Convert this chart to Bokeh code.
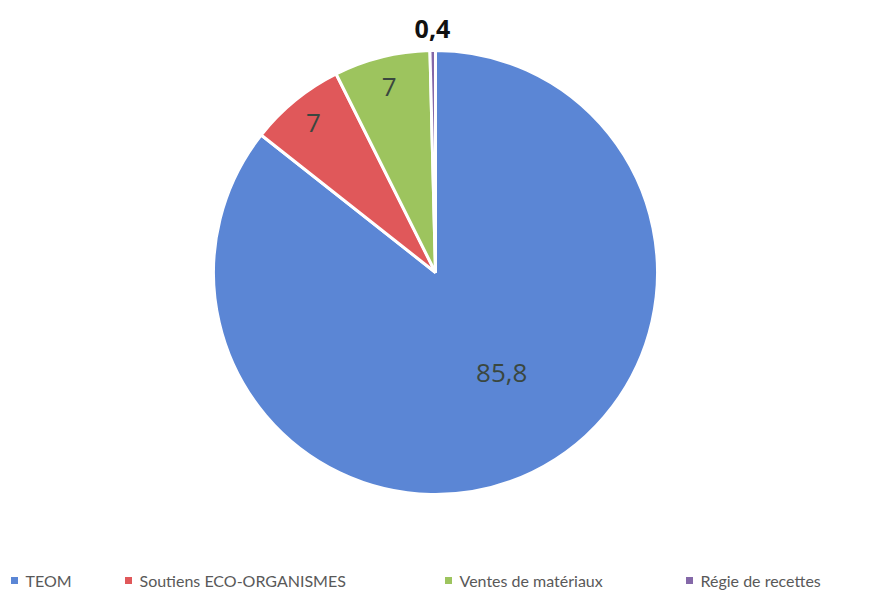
import math
from bokeh.plotting import figure
from bokeh.models import Range1d, ColumnDataSource
from bokeh.core.properties import value
from bokeh.embed import file_html
from bokeh.resources import INLINE

categories = ["TEOM", "Soutiens ECO-ORGANISMES", "Ventes de matériaux", "Régie de recettes"]
values = [85.8, 7, 7, 0.4]
labels = ["85,8", "7", "7", "0,4"]
colors = ["#5B86D5", "#E0585A", "#9DC45E", "#8468A8"]

W, H = 875, 591
p = figure(width=W, height=H, output_backend="svg", toolbar_location=None,
           x_range=Range1d(0, W), y_range=Range1d(0, H))
p.axis.visible = False
p.grid.visible = False
p.outline_line_color = None
p.background_fill_color = "white"
p.border_fill_color = "white"
p.min_border = 0

cx, cy, r = 435, 319, 222
total = sum(values)
starts, ends = [], []
a = math.pi / 2
for v in values:
    da = v / total * 2 * math.pi
    starts.append(a)
    ends.append(a - da)
    a -= da

src = ColumnDataSource(dict(start=starts, end=ends, color=colors))
p.wedge(x=cx, y=cy, radius=r, start_angle="end", end_angle="start",
        fill_color="color", line_color="white", line_width=3, source=src)

# data labels
label_r = [0.56, 0.87, 0.86, 1.095]
label_dx = [12, 0, 0, 0]
label_dy = [-11, 0, 0, 0]
for i, v in enumerate(values):
    mid = (starts[i] + ends[i]) / 2
    rr = r * label_r[i]
    x = cx + rr * math.cos(mid)
    y = cy + rr * math.sin(mid)
    bold = (i == 3)
    p.text(x=[x], y=[y], text=[labels[i]], text_align="center",
           x_offset=label_dx[i], y_offset=label_dy[i],
           text_baseline="middle", text_font=value("Open Sans"),
           text_font_size="25px" if bold else "26px",
           text_font_style="bold" if bold else "normal",
           text_color="#111111" if bold else "#3a473f")

# legend
leg_x = [14, 128, 448, 689]
leg_y = 591 - 580
for i, c in enumerate(categories):
    p.scatter(x=[leg_x[i]], y=[leg_y], marker="square", size=7,
              fill_color=colors[i], line_color=None)
    p.text(x=[leg_x[i] + 11], y=[leg_y], text=[c], text_baseline="middle",
           text_font=value("Lato"), text_font_size="16px", text_color="#595959")

open("out.html", "w").write(file_html(p, INLINE))
